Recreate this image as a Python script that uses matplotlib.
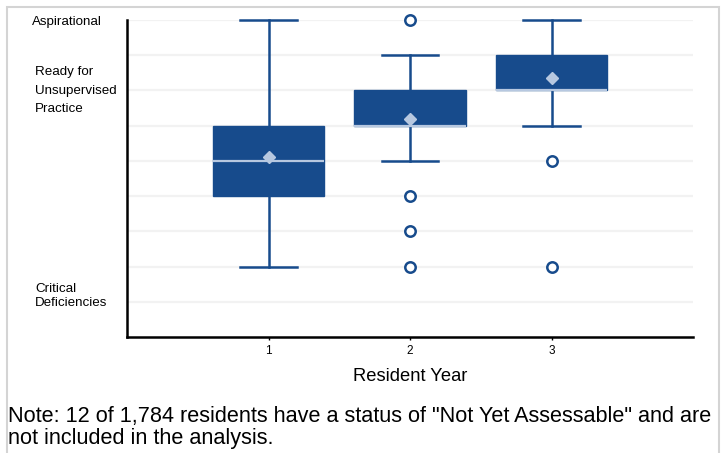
import matplotlib
matplotlib.use("Agg")
import matplotlib.pyplot as plt
from matplotlib.patches import Rectangle

plt.rcParams['font.family'] = ['Liberation Sans', 'DejaVu Sans']

# Data (levels 1..9)
years = [1, 2, 3]
year_labels = ["1", "2", "3"]
q1 = [4, 6, 7]
medians = [5, 6, 7]
q3 = [6, 7, 8]
whisker_low = [2, 5, 6]
whisker_high = [9, 8, 9]
means = [5.1, 6.2, 7.35]
outliers = [[], [9, 4, 3, 2], [5, 2]]

BLUE = "#174b8c"
LIGHT = "#b7c8e0"

fig = plt.figure(figsize=(7.27, 4.53), dpi=100)
W, H = 727, 453
ax = fig.add_axes([127 / W, 1 - 337 / H, (693 - 127) / W, (337 - 20) / H])

stats = []
for i in range(len(years)):
    stats.append(dict(q1=q1[i], med=medians[i], q3=q3[i], whislo=whisker_low[i],
                      whishi=whisker_high[i], mean=means[i], fliers=outliers[i]))

ax.bxp(stats, positions=years, widths=0.79, patch_artist=True, showmeans=True,
       boxprops=dict(facecolor=BLUE, edgecolor=BLUE, linewidth=1),
       medianprops=dict(color=LIGHT, linewidth=1.6),
       whiskerprops=dict(color=BLUE, linewidth=1.8),
       capprops=dict(color=BLUE, linewidth=1.8),
       capwidths=0.4,
       meanprops=dict(marker="D", markerfacecolor=LIGHT, markeredgecolor=LIGHT, markersize=6),
       flierprops=dict(marker="o", markerfacecolor="white", markeredgecolor=BLUE,
                       markeredgewidth=1.8, markersize=7.5))

for artist in ax.get_children():
    try:
        artist.set_clip_on(False)
    except Exception:
        pass

ax.set_xlim(0, 4)
ax.set_ylim(0, 9)
for lv in range(1, 10):
    ax.axhline(lv, color="#f2f2f2", linewidth=1.6, zorder=0)

ax.set_xticks(years)
ax.set_xticklabels(year_labels, fontsize=8.5, color="black")
ax.tick_params(axis="x", length=2.5, width=1, pad=3)
ax.set_yticks([])
for s in ["top", "right"]:
    ax.spines[s].set_visible(False)
ax.spines["left"].set_linewidth(1.8)
ax.spines["bottom"].set_linewidth(1.8)
ax.set_xlabel("Resident Year", fontsize=13.2, labelpad=8)

fig.text(32 / W, 1 - 22 / H, "Aspirational", fontsize=9.6, va="center", ha="left")
for txt, yp in zip(["Ready for", "Unsupervised", "Practice"], [72, 91, 109]):
    fig.text(35 / W, 1 - yp / H, txt, fontsize=9.6, va="center", ha="left")
for txt, yp in zip(["Critical", "Deficiencies"], [289, 303]):
    fig.text(35 / W, 1 - yp / H, txt, fontsize=9.6, va="center", ha="left")

note_lines = ["Note: 12 of 1,784 residents have a status of \"Not Yet Assessable\" and are",
              "not included in the analysis."]
for txt, yb in zip(note_lines, [422, 444]):
    fig.text(8 / W, 1 - yb / H, txt, fontsize=15.6, va="baseline", ha="left")

# light border
fig.patches.append(Rectangle((7 / W, -0.1), (719 - 7) / W, 1.1 - 7 / H,
                             transform=fig.transFigure, fill=False,
                             edgecolor="#d4d4d4", linewidth=1.5))

fig.savefig("out.png", dpi=100)
